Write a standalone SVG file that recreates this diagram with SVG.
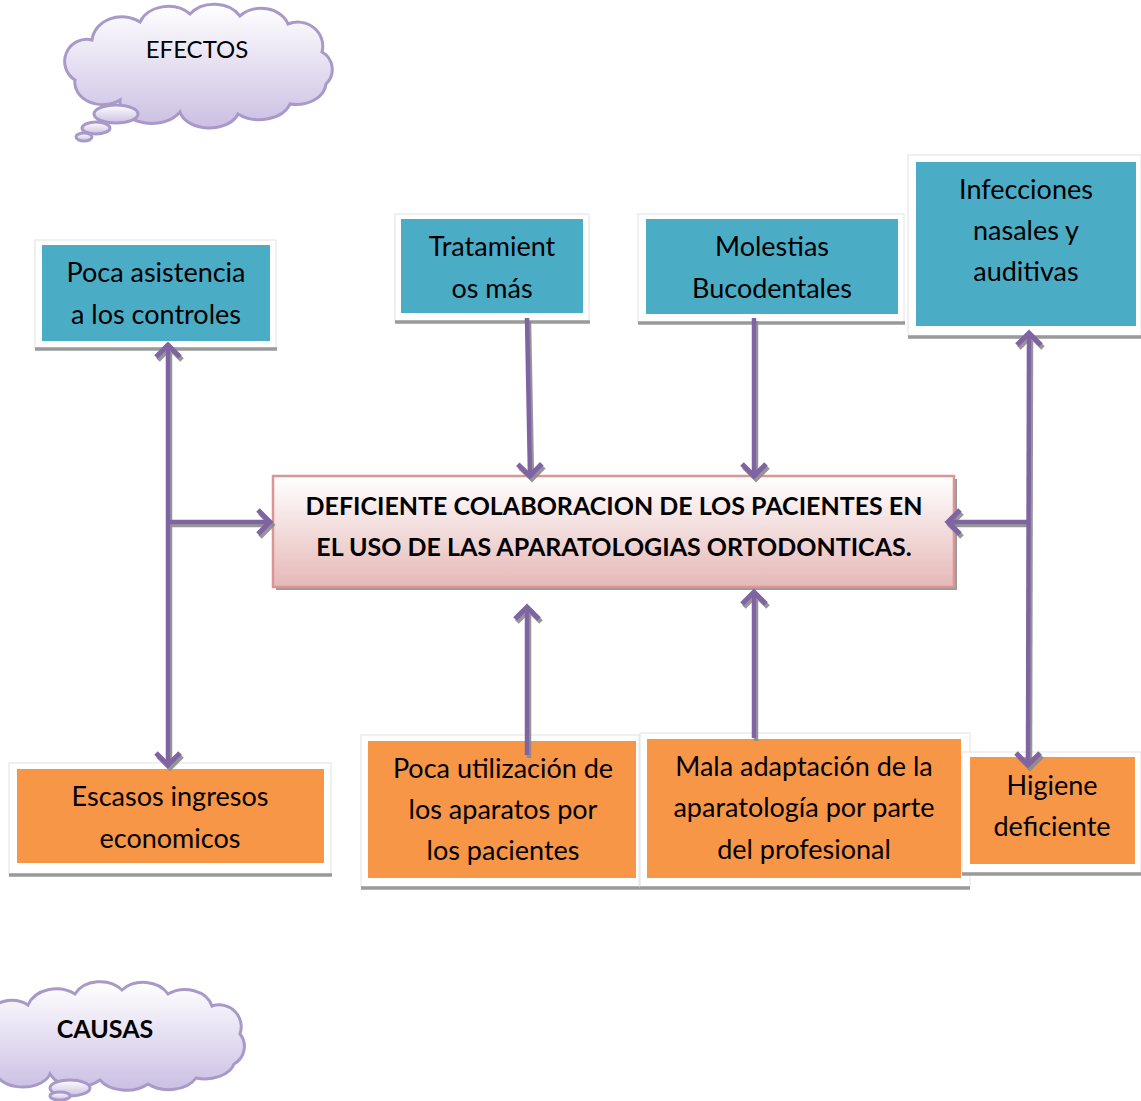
<svg xmlns="http://www.w3.org/2000/svg" width="1141" height="1101" viewBox="0 0 1141 1101">
<defs>
<linearGradient id="pink" x1="0" y1="0" x2="0" y2="1">
<stop offset="0" stop-color="#FFFFFF"/>
<stop offset="1" stop-color="#E5B8B7"/>
</linearGradient>
<linearGradient id="lav" x1="0" y1="0" x2="0" y2="1">
<stop offset="0" stop-color="#FFFFFF"/>
<stop offset="1" stop-color="#CBBFE3"/>
</linearGradient>
<marker id="ah" markerUnits="userSpaceOnUse" markerWidth="40" markerHeight="40" refX="0" refY="0" orient="auto-start-reverse" overflow="visible">
<path d="M-12,-12 L0,0 L-12,12" fill="none" stroke="#8064A2" stroke-width="5" stroke-linejoin="miter"/>
</marker>
<filter id="sh" x="-20%" y="-20%" width="140%" height="140%">
<feDropShadow dx="2" dy="3" stdDeviation="0.6" flood-color="#8a8a8a" flood-opacity="0.9"/>
</filter>
</defs>
<style>
.frame{fill:#FFFFFF;stroke:#E2E2E2;stroke-width:1}
.base{stroke:#9A9A9A;stroke-width:3.5}
.teal{fill:#4BACC6}
.orange{fill:#F79646}
.t{font-family:Lato,"Open Sans",sans-serif;font-size:27px;fill:#000;text-anchor:middle}
.tb{font-family:Lato,"Open Sans",sans-serif;font-size:25px;font-weight:bold;fill:#000;text-anchor:middle}
.cloud{fill:url(#lav);stroke:#A999C9;stroke-width:3}
.conn{fill:none;stroke:#8064A2;stroke-width:4.5}
</style>

<g id="cloud-efectos">
<path class="cloud" d="M75,80 A22,22 0 0 1 92,40 A30,26 0 0 1 140,22 A30,24 0 0 1 190,14 A30,24 0 0 1 240,16 A28,22 0 0 1 288,24 A25,24 0 0 1 322,52 A20,20 0 0 1 326,84 A30,22 0 0 1 290,104 A32,22 0 0 1 238,114 A30,20 0 0 1 180,112 A32,22 0 0 1 120,100 A28,22 0 0 1 75,80 Z"/>
<ellipse class="cloud" cx="116" cy="114" rx="22" ry="9"/>
<ellipse class="cloud" cx="96" cy="128" rx="14" ry="6"/>
<ellipse class="cloud" cx="84" cy="137" rx="8" ry="4"/>
<text class="t" x="197" y="58" style="font-size:24px">EFECTOS</text>
</g>

<g id="cloud-causas">
<path class="cloud" d="M-4,1045 A24,22 0 0 1 28,1005 A30,24 0 0 1 75,994 A28,22 0 0 1 122,990 A28,22 0 0 1 168,994 A28,22 0 0 1 212,1006 A22,22 0 0 1 240,1034 A20,20 0 0 1 234,1064 A30,20 0 0 1 196,1078 A30,20 0 0 1 148,1084 A30,20 0 0 1 100,1080 A30,20 0 0 1 50,1074 A28,18 0 0 1 -4,1064 Z"/>
<ellipse class="cloud" cx="70" cy="1088" rx="20" ry="8"/>
<ellipse class="cloud" cx="60" cy="1096" rx="10" ry="4"/>
<text class="tb" x="105" y="1038">CAUSAS</text>
</g>

<g id="node-center">
<rect x="276" y="479" width="681" height="111" fill="#9A9A9A"/>
<rect x="273" y="476" width="681" height="111" fill="url(#pink)" stroke="#D99694" stroke-width="2.5"/>
<text class="tb" x="614" y="515">DEFICIENTE COLABORACION DE LOS PACIENTES EN</text>
<text class="tb" x="614" y="556">EL USO DE LAS APARATOLOGIAS ORTODONTICAS.</text>
</g>

<g id="node-poca-asistencia">
<rect class="frame" x="35" y="240" width="241" height="108"/>
<line class="base" x1="35" y1="349" x2="277" y2="349"/>
<rect class="teal" x="42" y="245" width="228" height="96"/>
<text class="t" x="156" y="282">Poca asistencia</text>
<text class="t" x="156" y="324">a los controles</text>
</g>

<g id="node-tratamientos">
<rect class="frame" x="395" y="214" width="194" height="107"/>
<line class="base" x1="395" y1="322" x2="590" y2="322"/>
<rect class="teal" x="401" y="219" width="182" height="94"/>
<text class="t" x="492" y="256">Tratamient</text>
<text class="t" x="492" y="298">os más</text>
</g>

<g id="node-molestias">
<rect class="frame" x="638" y="214" width="266" height="108"/>
<line class="base" x1="638" y1="323" x2="905" y2="323"/>
<rect class="teal" x="646" y="219" width="252" height="95"/>
<text class="t" x="772" y="256">Molestias</text>
<text class="t" x="772" y="298">Bucodentales</text>
</g>

<g id="node-infecciones">
<rect class="frame" x="908" y="155" width="233" height="181"/>
<line class="base" x1="908" y1="337" x2="1141" y2="337"/>
<rect class="teal" x="916" y="162" width="220" height="164"/>
<text class="t" x="1026" y="199">Infecciones</text>
<text class="t" x="1026" y="240">nasales y</text>
<text class="t" x="1026" y="281">auditivas</text>
</g>

<g id="node-escasos">
<rect class="frame" x="9" y="763" width="322" height="111"/>
<line class="base" x1="9" y1="875" x2="332" y2="875"/>
<rect class="orange" x="17" y="769" width="307" height="94"/>
<text class="t" x="170" y="806">Escasos ingresos</text>
<text class="t" x="170" y="848">economicos</text>
</g>

<g id="node-poca-utilizacion">
<rect class="frame" x="361" y="735" width="278" height="152"/>
<line class="base" x1="361" y1="888" x2="640" y2="888"/>
<rect class="orange" x="368" y="741" width="268" height="137"/>
<text class="t" x="503" y="778">Poca utilización de</text>
<text class="t" x="503" y="819">los aparatos por</text>
<text class="t" x="503" y="860">los pacientes</text>
</g>

<g id="node-mala-adaptacion">
<rect class="frame" x="640" y="733" width="330" height="154"/>
<line class="base" x1="640" y1="888" x2="970" y2="888"/>
<rect class="orange" x="647" y="739" width="314" height="139"/>
<text class="t" x="804" y="776">Mala adaptación de la</text>
<text class="t" x="804" y="817">aparatología por parte</text>
<text class="t" x="804" y="859">del profesional</text>
</g>

<g id="node-higiene">
<rect class="frame" x="962" y="752" width="179" height="121"/>
<line class="base" x1="962" y1="874" x2="1141" y2="874"/>
<rect class="orange" x="970" y="757" width="165" height="107"/>
<text class="t" x="1052" y="795">Higiene</text>
<text class="t" x="1052" y="836">deficiente</text>
</g>

<g id="connectors" filter="url(#sh)">
<line class="conn" x1="168" y1="345" x2="168" y2="765" marker-start="url(#ah)" marker-end="url(#ah)"/>
<line class="conn" x1="166" y1="522" x2="270" y2="522" marker-end="url(#ah)"/>
<line class="conn" x1="527" y1="318" x2="530" y2="476" marker-end="url(#ah)"/>
<line class="conn" x1="754" y1="318" x2="754" y2="476" marker-end="url(#ah)"/>
<line class="conn" x1="1029" y1="333" x2="1028" y2="765" marker-start="url(#ah)" marker-end="url(#ah)"/>
<line class="conn" x1="1030" y1="522" x2="948" y2="522" marker-end="url(#ah)"/>
<line class="conn" x1="527" y1="755" x2="527" y2="607" marker-end="url(#ah)"/>
<line class="conn" x1="754" y1="738" x2="754" y2="592" marker-end="url(#ah)"/>
</g>
</svg>
